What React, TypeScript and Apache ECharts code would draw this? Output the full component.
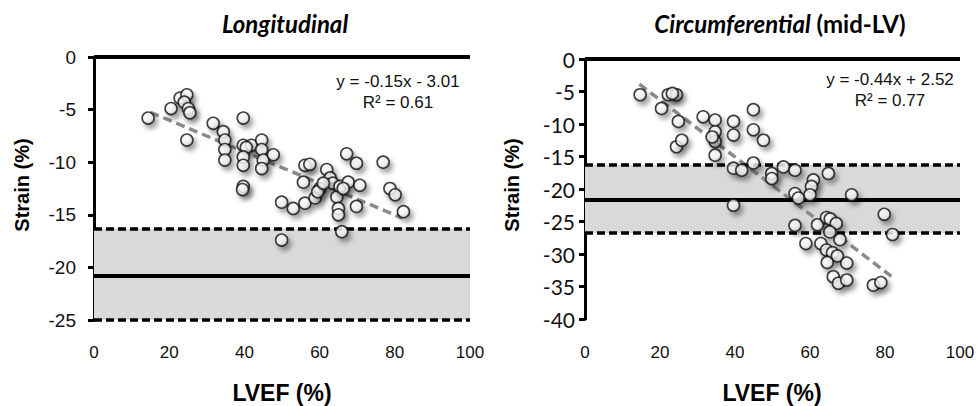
import React, { useEffect, useRef } from "react";
import * as echarts from "echarts";

// ---- Data ----
const longPoints: number[][] = [
  [14.4, -5.8], [20.5, -4.9], [22.9, -3.9], [24.7, -3.6], [24.0, -4.3], [25.1, -4.9], [25.5, -5.3],
  [24.7, -7.9], [31.7, -6.3], [34.4, -7.1], [34.8, -7.9], [34.8, -8.8], [34.8, -9.8], [39.7, -5.8],
  [39.7, -8.4], [41.9, -8.4], [40.5, -8.6], [39.7, -9.5], [39.7, -10.3], [39.7, -12.3], [39.5, -12.6],
  [44.6, -7.9], [44.6, -8.8], [45.0, -9.8], [44.6, -10.6], [47.7, -9.3], [56.1, -10.3], [57.4, -10.2],
  [55.7, -11.9], [49.9, -13.8], [53.0, -14.4], [56.1, -13.9], [49.9, -17.4], [58.8, -13.4], [60.1, -12.5],
  [61.9, -10.7], [62.8, -11.5], [63.5, -12.0], [64.6, -13.3], [65.4, -12.3], [67.6, -11.9], [66.3, -12.5],
  [65.0, -14.4], [65.0, -15.0], [67.2, -9.2], [69.8, -10.1], [70.7, -12.2], [69.8, -14.2], [65.9, -16.6],
  [76.9, -10.0], [78.7, -12.5], [80.1, -13.1], [82.3, -14.7], [59.5, -12.8], [61.0, -12.0]
];
const circPoints: number[][] = [
  [14.7, -5.5], [22.2, -5.5], [24.4, -5.5], [23.3, -5.3], [20.4, -7.6], [24.9, -9.6], [24.4, -13.5],
  [25.8, -12.5], [31.5, -8.9], [34.7, -9.4], [34.7, -11.2], [34.7, -12.7], [33.9, -12.0], [34.7, -14.8],
  [39.6, -9.6], [39.6, -11.7], [44.9, -7.8], [44.9, -10.9], [47.6, -12.5], [39.6, -16.8], [41.8, -17.1],
  [44.9, -16.0], [39.6, -22.5], [49.8, -17.6], [49.8, -18.4], [52.9, -16.6], [56.0, -17.1], [56.0, -20.7],
  [56.9, -21.4], [60.9, -18.6], [60.4, -19.6], [60.0, -20.9], [64.9, -17.6], [71.1, -20.9], [56.0, -25.6],
  [58.9, -28.4], [62.0, -25.5], [64.4, -24.4], [65.4, -24.6], [67.0, -25.3], [65.3, -26.6], [68.0, -27.8],
  [62.9, -28.4], [64.4, -29.4], [66.0, -29.8], [67.3, -30.3], [64.6, -31.3], [69.8, -31.4], [66.2, -33.5],
  [67.6, -34.5], [69.8, -34.0], [76.9, -34.8], [78.9, -34.4], [79.8, -23.9], [82.0, -27.0]
];
// [slope, intercept]
const longFit = [-0.15, -3.01];
const circFit = [-0.44, 2.52];
const longFitRange = [15, 82];
const circFitRange = [14.5, 82];
// [upper limit, mean, lower limit] of the normal range
const longNormal = [-16.3, -20.8, -25];
const circNormal = [-16.3, -21.7, -26.8];
const xTicks = [0, 100, 20];
const longYRange = [-25, 0, 5];
const circYRange = [-40, 0, 5];
const longEq = ["y = -0.15x - 3.01", "R² = 0.61"];
const circEq = ["y = -0.44x + 2.52", "R² = 0.77"];

const ARIAL = "'Liberation Sans', Arial, sans-serif";
const CAL = "Lato, 'Noto Sans', sans-serif";

function fitLine(fit: number[], range: number[]) {
  return range.map((x) => [x, +(fit[0] * x + fit[1]).toFixed(3)]);
}

function dotStyle() {
  return {
    color: new echarts.graphic.RadialGradient(0.4, 0.35, 0.75, [
      { offset: 0, color: "#ffffff" },
      { offset: 0.55, color: "#f3f3f3" },
      { offset: 1, color: "#b9b9b9" }
    ]),
    borderColor: "#111",
    borderWidth: 1.6,
    shadowColor: "rgba(0,0,0,0.45)",
    shadowBlur: 5,
    shadowOffsetX: 3,
    shadowOffsetY: 4
  };
}

function refSeries(idx: number, normal: number[]) {
  const dashed = { color: "#000", width: 3.5, type: [8, 4] };
  const solid = { color: "#000", width: 4, type: "solid" };
  return {
    type: "line",
    xAxisIndex: idx,
    yAxisIndex: idx,
    data: [],
    symbol: "none",
    silent: true,
    z: 2,
    markArea: {
      silent: true,
      itemStyle: { color: "#d9d9d9" },
      data: [[{ yAxis: normal[0] }, { yAxis: normal[2] }]]
    },
    markLine: {
      silent: true,
      symbol: ["none", "none"],
      label: { show: false },
      emphasis: { disabled: true },
      data: [
        { yAxis: 0, lineStyle: solid },
        { yAxis: normal[0], lineStyle: dashed },
        { yAxis: normal[1], lineStyle: solid },
        { yAxis: normal[2], lineStyle: dashed }
      ]
    }
  };
}

export default function App() {
  const ref = useRef<HTMLDivElement>(null);
  useEffect(() => {
    document.body.style.margin = "0";
    const chart = echarts.init(ref.current!, null, { renderer: "svg" });
    const xAxisBase = (idx: number, margin: number) => ({
      gridIndex: idx,
      type: "value",
      min: xTicks[0],
      max: xTicks[1],
      interval: xTicks[2],
      axisLine: { show: false },
      axisTick: { show: false },
      splitLine: { show: false },
      axisLabel: { fontFamily: ARIAL, fontSize: 17, color: "#111", margin }
    });
    const yAxisBase = (idx: number, r: number[], font: string, size: number, margin: number) => ({
      gridIndex: idx,
      type: "value",
      min: r[0],
      max: r[1],
      interval: r[2],
      axisLine: { show: true, onZero: false, lineStyle: { color: "#000", width: 3 } },
      axisTick: { show: true, length: 6, lineStyle: { color: "#000", width: 3 } },
      splitLine: { show: false },
      axisLabel: { fontFamily: font, fontSize: size, color: "#111", margin }
    });
    const trend = (idx: number, fit: number[], range: number[]) => ({
      type: "line",
      xAxisIndex: idx,
      yAxisIndex: idx,
      data: fitLine(fit, range),
      symbol: "none",
      silent: true,
      z: 3,
      lineStyle: { color: "#8a8a8a", width: 3.5, type: [9, 5] }
    });
    const scatter = (idx: number, pts: number[][]) => ({
      type: "scatter",
      xAxisIndex: idx,
      yAxisIndex: idx,
      data: pts,
      symbol: "circle",
      symbolSize: 12,
      z: 5,
      itemStyle: dotStyle()
    });
    const axisTitle = { fontFamily: ARIAL, fontWeight: "bold", fill: "#000" };
    chart.setOption({
      animation: false,
      grid: [
        { left: 94, top: 57, width: 376, height: 263 },
        { left: 585, top: 59, width: 375, height: 260 }
      ],
      xAxis: [xAxisBase(0, 24), xAxisBase(1, 25)],
      yAxis: [
        yAxisBase(0, longYRange, ARIAL, 19, 18),
        yAxisBase(1, circYRange, CAL, 21, 10)
      ],
      series: [
        refSeries(0, longNormal),
        refSeries(1, circNormal),
        trend(0, longFit, longFitRange),
        trend(1, circFit, circFitRange),
        scatter(0, longPoints),
        scatter(1, circPoints)
      ],
      graphic: [
        {
          type: "text", x: 285, y: 23,
          style: { text: "Longitudinal", font: `italic bold 24px ${CAL}`, fill: "#000", align: "center", verticalAlign: "middle" }
        },
        {
          type: "text", x: 780, y: 23,
          style: {
            text: "{i|Circumferential}{b| (mid-LV)}",
            align: "center", verticalAlign: "middle",
            rich: {
              i: { fontFamily: CAL, fontStyle: "italic", fontWeight: "bold", fontSize: 24, fill: "#000" },
              b: { fontFamily: CAL, fontWeight: "bold", fontSize: 24, fill: "#000" }
            }
          }
        },
        {
          type: "text", x: 22, y: 185, rotation: Math.PI / 2,
          style: { ...axisTitle, text: "Strain (%)", fontSize: 20, align: "center", verticalAlign: "middle" }
        },
        {
          type: "text", x: 512, y: 185, rotation: Math.PI / 2,
          style: { ...axisTitle, text: "Strain (%)", fontSize: 20, align: "center", verticalAlign: "middle" }
        },
        {
          type: "text", x: 282, y: 393,
          style: { ...axisTitle, text: "LVEF (%)", fontSize: 23, align: "center", verticalAlign: "middle" }
        },
        {
          type: "text", x: 772, y: 393,
          style: { ...axisTitle, text: "LVEF (%)", fontSize: 23, align: "center", verticalAlign: "middle" }
        },
        {
          type: "text", x: 398, y: 92,
          style: { text: longEq.join("\n"), fontFamily: ARIAL, fontSize: 17, lineHeight: 21, fill: "#111", align: "center", verticalAlign: "middle" }
        },
        {
          type: "text", x: 890, y: 90,
          style: { text: circEq.join("\n"), fontFamily: ARIAL, fontSize: 17, lineHeight: 21, fill: "#111", align: "center", verticalAlign: "middle" }
        }
      ]
    });
    return () => chart.dispose();
  }, []);
  return <div ref={ref} style={{ width: 979, height: 406 }} />;
}
